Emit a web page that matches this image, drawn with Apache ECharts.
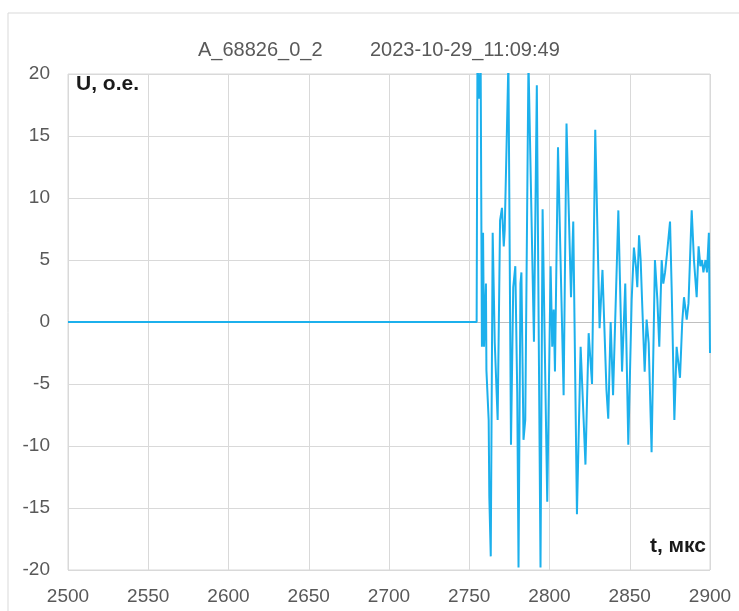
<!DOCTYPE html>
<html>
<head>
<meta charset="utf-8">
<script src="https://cdn.jsdelivr.net/npm/echarts@6/dist/echarts.min.js"></script>
<style>
html,body{margin:0;padding:0;background:#fff;}
#chart{width:739px;height:611px;}
</style>
</head>
<body>
<div id="chart"></div>
<script>
// Chart texts
const titleLeft = 'A_68826_0_2';
const titleRight = '2023-10-29_11:09:49';
const yName = 'U, о.е.';
const xName = 't, мкс';

// Axis ranges / ticks
const xMin = 2500, xMax = 2900, xStep = 50;
const yMin = -20, yMax = 20, yStep = 5;

// Signal: time (µs) and voltage (о.е.)
const timeUs = [
  2500, 2754.6, 2755.1, 2756.1, 2757.1, 2757.9, 2758.6, 2759.2, 2760.4, 2760.7,
  2762.1, 2762.5, 2763.4, 2764.6, 2765.9, 2767.7, 2769.2, 2770.4, 2771.5, 2772.1,
  2774.4, 2776.0, 2777.4, 2778.7, 2779.9, 2780.7, 2781.9, 2782.5, 2783.8, 2784.9,
  2786.9, 2787.9, 2790.3, 2792.1, 2794.4, 2795.7, 2798.6, 2800.7, 2801.7, 2802.6,
  2803.4, 2805.3, 2808.8, 2810.6, 2813.4, 2814.8, 2817.1, 2819.4, 2822.4, 2824.4,
  2825.2, 2826.5, 2828.5, 2831.2, 2833.0, 2835.5, 2836.6, 2838.1, 2839.6, 2842.9,
  2845.2, 2847.2, 2849.1, 2851.2, 2852.6, 2853.9, 2854.7, 2855.8, 2856.8, 2857.6,
  2859.3, 2860.5, 2861.8, 2863.6, 2865.7, 2867.2, 2868.4, 2869.9, 2870.9, 2872.0,
  2873.2, 2875.1, 2876.1, 2877.8, 2879.2, 2881.3, 2882.7, 2883.8, 2885.5, 2886.6,
  2888.6, 2890.0, 2891.7, 2892.9, 2894.0, 2895.0, 2895.9, 2897.2, 2898.1, 2899.3,
  2900
];
const voltage = [
  0, 0, 21, 18, 21, -2, 7.2, -2, 3.1, -3.9,
  -7.9, -14.1, -18.9, 7.2, -1.7, -7.9, 8.2, 9.2, 6.1, 7.4,
  21, -9.9, 2.8, 4.5, -5.7, -19.8, 3.1, 4.0, -9.5, -7.9,
  21, 21, -1.6, 19.1, -19.8, 9.1, -14.5, 4.5, -2.0, 1.0,
  -4.0, 14.1, -5.9, 16.0, 2.0, 8.1, -15.5, -2.0, -11.5, -0.9,
  -0.8, -5.0, 15.5, -0.5, 4.2, -5.5, -7.8, 0.0, -5.9, 9.0,
  -4.0, 3.1, -9.9, 1.8, 6.0, 4.4, 2.8, 7.0, 5.0, 2.0,
  -4.0, 0.2, -1.7, -10.5, 5.0, 1.8, -2.0, 5.0, 3.1, 4.0,
  5.5, 8.1, 2.8, -7.9, -2.0, -4.5, 0.0, 2.0, 0.2, 1.5,
  9.0, 5.0, 2.0, 6.1, 4.5, 5.0, 4.0, 5.0, 4.0, 7.2,
  -2.5
];

const points = timeUs.map((t, i) => [t, voltage[i]]);

const grayText = '#595959';
const gridColor = '#d9d9d9';
const zeroColor = '#bfbfbf';
const fontFam = "'Liberation Sans', Arial, sans-serif";

const yTickCount = (yMax - yMin) / yStep + 1;
const yLineColors = [];
for (let i = 0; i < yTickCount; i++) {
  yLineColors.push(yMin + i * yStep === 0 ? zeroColor : gridColor);
}

const chart = echarts.init(document.getElementById('chart'), null, {renderer: 'canvas'});
chart.setOption({
  animation: false,
  backgroundColor: '#fff',
  title: [
    {text: titleLeft, left: 193, top: 35,
     textStyle: {color: grayText, fontSize: 20, fontWeight: 'normal', fontFamily: fontFam}},
    {text: titleRight, left: 365, top: 35,
     textStyle: {color: grayText, fontSize: 20, fontWeight: 'normal', fontFamily: fontFam}}
  ],
  grid: {
    left: 68, right: 29, top: 74, bottom: 41,
    show: true, borderColor: gridColor, borderWidth: 1, containLabel: false
  },
  xAxis: {
    type: 'value', min: xMin, max: xMax, interval: xStep,
    axisLine: {show: false}, axisTick: {show: false},
    splitLine: {show: true, lineStyle: {color: gridColor, width: 1}},
    axisLabel: {color: grayText, fontSize: 19, fontFamily: fontFam, margin: 17,
                formatter: v => String(v)}
  },
  yAxis: {
    type: 'value', min: yMin, max: yMax, interval: yStep,
    axisLine: {show: false}, axisTick: {show: false},
    splitLine: {show: true, lineStyle: {color: yLineColors, width: 1}},
    axisLabel: {color: grayText, fontSize: 19, fontFamily: fontFam, margin: 18}
  },
  series: [{
    type: 'line',
    data: points,
    showSymbol: false,
    clip: true,
    lineStyle: {color: '#1cb0ec', width: 2},
    itemStyle: {color: '#1cb0ec'}
  }],
  graphic: [
    {type: 'rect', z: -1, shape: {x: 8, y: 13, width: 800, height: 700},
     style: {fill: 'none', stroke: '#d9d9d9', lineWidth: 1}},
    {type: 'text', left: 76, top: 74, z: 10,
     style: {text: yName, fill: '#1a1a1a', font: 'bold 21px ' + fontFam}},
    {type: 'text', right: 33, top: 536, z: 10,
     style: {text: xName, fill: '#1a1a1a', font: 'bold 21px ' + fontFam}}
  ]
});
</script>
</body>
</html>
